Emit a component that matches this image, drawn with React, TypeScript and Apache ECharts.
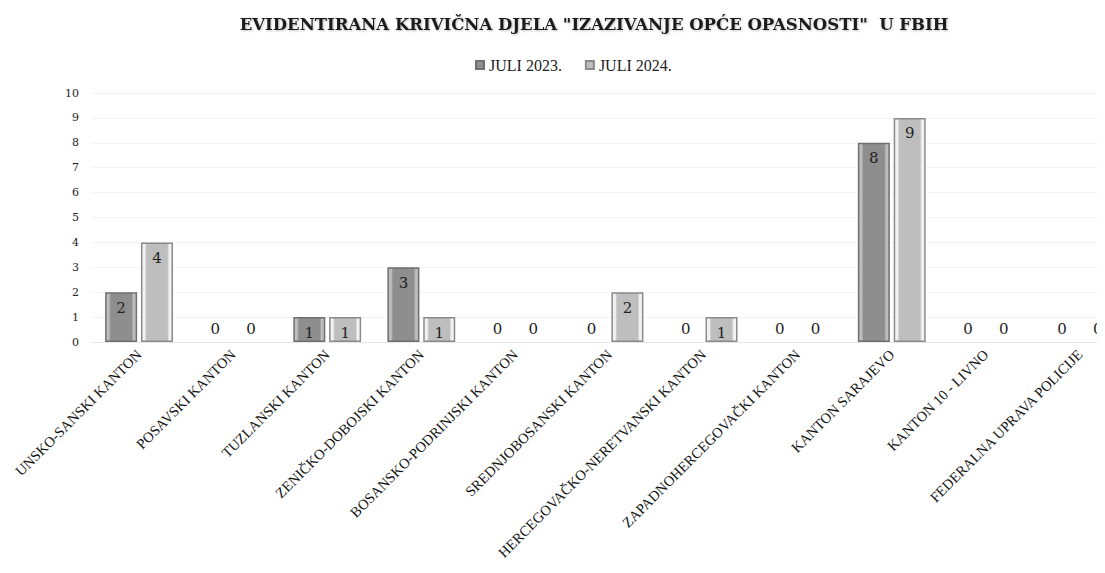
import React, { useEffect, useRef } from "react";
import * as echarts from "echarts";

const categories = [
  "UNSKO-SANSKI KANTON",
  "POSAVSKI KANTON",
  "TUZLANSKI KANTON",
  "ZENIČKO-DOBOJSKI KANTON",
  "BOSANSKO-PODRINJSKI KANTON",
  "SREDNJOBOSANSKI KANTON",
  "HERCEGOVAČKO-NERETVANSKI KANTON",
  "ZAPADNOHERCEGOVAČKI KANTON",
  "KANTON SARAJEVO",
  "KANTON 10 - LIVNO",
  "FEDERALNA UPRAVA POLICIJE",
];
const seriesNames = ["JULI 2023.", "JULI 2024."];
const values2023 = [2, 0, 1, 3, 0, 0, 0, 0, 8, 0, 0];
const values2024 = [4, 0, 1, 1, 0, 2, 1, 0, 9, 0, 0];
const title = 'EVIDENTIRANA KRIVIČNA DJELA "IZAZIVANJE OPĆE OPASNOSTI"  U FBIH';

const SERIF = "'DejaVu Serif', 'Liberation Serif', serif";
const LSERIF = "'Liberation Serif', serif";

function buildData(vals: number[]) {
  return vals.map((v) =>
    v === 0
      ? {
          value: v,
          itemStyle: { borderWidth: 0, color: "rgba(0,0,0,0)" },
          label: { position: "top", distance: 6 },
        }
      : { value: v }
  );
}

function edgeGradient(edge: string, fill: string) {
  return new echarts.graphic.LinearGradient(0, 0, 1, 0, [
    { offset: 0, color: edge },
    { offset: 0.1, color: edge },
    { offset: 0.16, color: fill },
    { offset: 0.84, color: fill },
    { offset: 0.9, color: edge },
    { offset: 1, color: edge },
  ]);
}

export default function App() {
  const ref = useRef<HTMLDivElement>(null);
  useEffect(() => {
    if (!ref.current) return;
    const chart = echarts.init(ref.current, undefined, { renderer: "svg" });
    const labelStyle = {
      show: true,
      position: "insideTop",
      distance: 8,
      fontFamily: SERIF,
      fontSize: 15,
      color: "#222",
    };
    chart.setOption({
      animation: false,
      backgroundColor: "#ffffff",
      title: {
        text: title,
        left: 589,
        textAlign: "center",
        top: 11,
        textStyle: {
          fontFamily: SERIF,
          fontWeight: "bold",
          fontSize: 16.5,
          color: "#1a1a1a",
          textShadowColor: "rgba(0,0,0,0.25)",
          textShadowBlur: 2,
          textShadowOffsetX: 1,
          textShadowOffsetY: 1,
        },
      },
      legend: {
        top: 52,
        left: 470,
        itemWidth: 8,
        itemHeight: 8,
        itemGap: 23,
        icon: "rect",
        textStyle: { fontFamily: LSERIF, fontSize: 16, color: "#222" },
        data: seriesNames,
      },
      grid: {
        left: 92,
        width: 1035,
        top: 93,
        height: 249,
        containLabel: false,
        outerBoundsMode: "none",
      },
      xAxis: {
        type: "category",
        data: categories,
        axisLine: { show: true, lineStyle: { color: "#e6e6e6" } },
        axisTick: { show: false },
        axisLabel: {
          rotate: 45,
          interval: 0,
          margin: 10,
          fontFamily: LSERIF,
          fontSize: 14.5,
          color: "#111",
        },
      },
      yAxis: {
        type: "value",
        min: 0,
        max: 10,
        interval: 1,
        axisLine: { show: false },
        axisTick: { show: false },
        splitLine: { lineStyle: { color: "#f3f3f3" } },
        axisLabel: { fontFamily: SERIF, fontSize: 11, color: "#222", margin: 13 },
      },
      series: [
        {
          name: seriesNames[0],
          type: "bar",
          data: buildData(values2023),
          barWidth: 32,
          barGap: "12%",
          itemStyle: {
            color: edgeGradient("#bdbdbd", "#8e8e8e"),
            borderColor: "#6f6f6f",
            borderWidth: 1.5,
          },
          label: labelStyle,
        },
        {
          name: seriesNames[1],
          type: "bar",
          data: buildData(values2024),
          barWidth: 32,
          itemStyle: {
            color: edgeGradient("#f2f2f2", "#bebebe"),
            borderColor: "#8a8a8a",
            borderWidth: 1.5,
          },
          label: labelStyle,
        },
      ],
    });
    return () => chart.dispose();
  }, []);
  return <div ref={ref} style={{ width: 1105, height: 573, margin: -8 }} />;
}
